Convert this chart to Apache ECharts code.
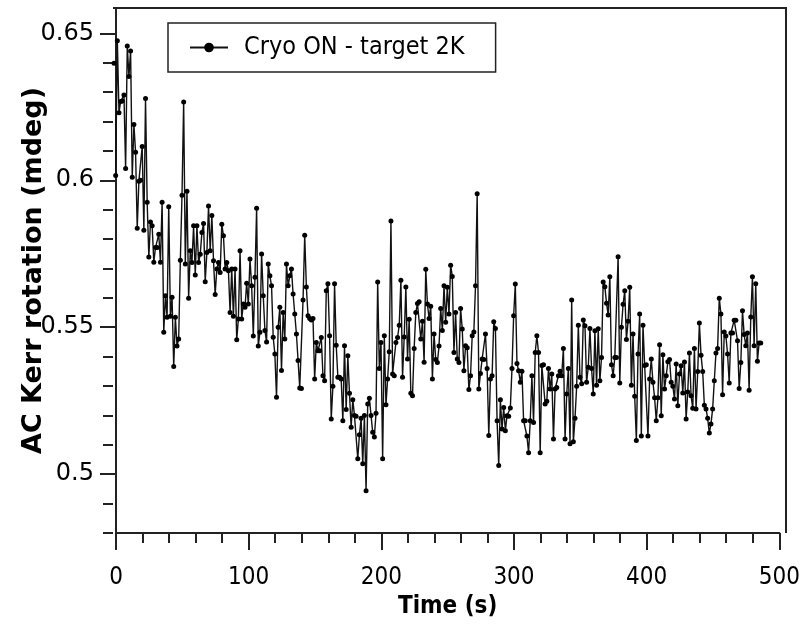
<!DOCTYPE html>
<html>
<head>
<meta charset="utf-8">
<title>AC Kerr rotation</title>
<script src="https://cdn.jsdelivr.net/npm/echarts@6/dist/echarts.min.js"></script>
<style>
  html, body { margin: 0; padding: 0; background: #fff; }
  #chart { width: 808px; height: 633px; }
</style>
</head>
<body>
<div id="chart"></div>
<script>
// sampling of the trace (s)
var t0 = -1.5;
var dt = 1.25;

// values, in time order (mdeg)
var kerrA = [
  0.6398, 0.6016, 0.6475, 0.6230, 0.6268, 0.6270, 0.6290, 0.6040, 0.6457, 0.6353,
  0.6440, 0.6010, 0.6190, 0.6095, 0.5837, 0.5997, 0.6000, 0.6115, 0.5830, 0.6278,
  0.5925, 0.5739, 0.5858, 0.5845, 0.5721, 0.5771, 0.5771, 0.5816, 0.5721, 0.5925,
  0.5483, 0.5607, 0.5534, 0.5910, 0.5537, 0.5602, 0.5366, 0.5534, 0.5436, 0.5460,
  0.5728, 0.5949, 0.6266, 0.5715, 0.5963, 0.5599, 0.5760, 0.5720, 0.5845, 0.5678,
  0.5845, 0.5720, 0.5748, 0.5822, 0.5853, 0.5655, 0.5754, 0.5912, 0.5760, 0.5880,
  0.5726, 0.5611, 0.5698, 0.5720, 0.5686, 0.5850, 0.5811, 0.5698, 0.5720, 0.5692,
  0.5550, 0.5698, 0.5537, 0.5698, 0.5457, 0.5528, 0.5760, 0.5528, 0.5579, 0.5568,
  0.5650, 0.5579, 0.5732, 0.5641, 0.5470, 0.5670, 0.5905, 0.5436, 0.5483, 0.5749,
  0.5607, 0.5489, 0.5450, 0.5715, 0.5675, 0.5641, 0.5466, 0.5409, 0.5262, 0.5500,
  0.5568, 0.5353, 0.5550, 0.5460, 0.5715, 0.5641, 0.5675, 0.5698, 0.5613, 0.5545,
  0.5477, 0.5387, 0.5293
];
var kerrB = [
  0.5292, 0.5593, 0.5813, 0.5637, 0.5539, 0.5530, 0.5525, 0.5530, 0.5324, 0.5448,
  0.5420, 0.5420, 0.5465, 0.5335, 0.5318, 0.5624, 0.5648, 0.5471, 0.5188, 0.5299,
  0.5648, 0.5439, 0.5330, 0.5330, 0.5324, 0.5182, 0.5437, 0.5220, 0.5403, 0.5275,
  0.5160, 0.5253, 0.5200, 0.5197, 0.5053, 0.5134, 0.5190, 0.5036, 0.5200, 0.4944,
  0.5239, 0.5258, 0.5200, 0.5143, 0.5127, 0.5207, 0.5654, 0.5360, 0.5448, 0.5053,
  0.5471, 0.5236, 0.5324, 0.5417, 0.5861, 0.5341, 0.5335, 0.5448, 0.5465, 0.5507,
  0.5660, 0.5330, 0.5467, 0.5637, 0.5392, 0.5527, 0.5275, 0.5267, 0.5428, 0.5550,
  0.5581, 0.5587, 0.5460, 0.5520, 0.5381, 0.5697, 0.5579, 0.5530, 0.5571, 0.5324,
  0.5477, 0.5390, 0.5380, 0.5436, 0.5564, 0.5489, 0.5641, 0.5517, 0.5636, 0.5545,
  0.5711, 0.5673, 0.5414, 0.5550, 0.5392, 0.5380, 0.5564, 0.5494, 0.5352, 0.5437,
  0.5430, 0.5288, 0.5335, 0.5471, 0.5484, 0.5641, 0.5954, 0.5290, 0.5343, 0.5392,
  0.5390, 0.5477, 0.5360, 0.5132
];
var kerrC = [
  0.5324, 0.5335, 0.5519, 0.5496, 0.5182, 0.5030, 0.5253, 0.5154, 0.5227, 0.5148,
  0.5199, 0.5197, 0.5225, 0.5360, 0.5539, 0.5647, 0.5377, 0.5352, 0.5313, 0.5350,
  0.5182, 0.5182, 0.5130, 0.5073, 0.5182, 0.5335, 0.5176, 0.5414, 0.5471, 0.5414,
  0.5073, 0.5370, 0.5372, 0.5239, 0.5248, 0.5360, 0.5290, 0.5341, 0.5120, 0.5290,
  0.5295, 0.5335, 0.5350, 0.5335, 0.5428, 0.5120, 0.5273, 0.5360, 0.5104, 0.5593,
  0.5110, 0.5190, 0.5299, 0.5507, 0.5330, 0.5308, 0.5525, 0.5505, 0.5313, 0.5364,
  0.5496, 0.5360, 0.5273, 0.5488, 0.5303, 0.5495, 0.5318, 0.5397, 0.5654, 0.5638,
  0.5582, 0.5542, 0.5672, 0.5372, 0.5335, 0.5397, 0.5397, 0.5740, 0.5310, 0.5500,
  0.5578, 0.5624, 0.5458, 0.5520, 0.5636, 0.5303, 0.5477, 0.5265, 0.5115, 0.5409,
  0.5545, 0.5130, 0.5507, 0.5370, 0.5372, 0.5130, 0.5324, 0.5392, 0.5313, 0.5260,
  0.5182, 0.5260, 0.5440, 0.5199, 0.5406, 0.5290, 0.5335, 0.5383, 0.5390, 0.5313,
  0.5299, 0.5256, 0.5375, 0.5233, 0.5341
];
var kerrD = [
  0.5369, 0.5276, 0.5382, 0.5188, 0.5280, 0.5412, 0.5267, 0.5224, 0.5428, 0.5222,
  0.5349, 0.5514, 0.5405, 0.5349, 0.5235, 0.5222, 0.5190, 0.5140, 0.5171, 0.5222,
  0.5318, 0.5412, 0.5428, 0.5599, 0.5545, 0.5270, 0.5484, 0.5470, 0.5409, 0.5310,
  0.5480, 0.5480, 0.5524, 0.5524, 0.5454, 0.5292, 0.5380, 0.5556, 0.5475, 0.5437,
  0.5480, 0.5286, 0.5535, 0.5672, 0.5437, 0.5648, 0.5384, 0.5446, 0.5446
];

var yMajorTicks = [0.5, 0.55, 0.6, 0.65];
var yMinorTicks = [0.48, 0.49, 0.51, 0.52, 0.53, 0.54, 0.56, 0.57, 0.58, 0.59,
                   0.61, 0.62, 0.63, 0.64];
var seriesName = 'Cryo ON - target 2K';

var kerr = kerrA.concat(kerrB, kerrC, kerrD);
var points = kerr.map(function (v, i) {
  return [+(t0 + i * dt).toFixed(2), v];
});

var ink = '#222';
var labelFont = "'DejaVu Sans Condensed', 'DejaVu Sans', sans-serif";

var chart = echarts.init(document.getElementById('chart'));
var option = {
  animation: false,
  backgroundColor: '#fff',
  grid: { left: 116, right: 28.7, top: 8, bottom: 100, outerBoundsMode: 'none' },
  legend: {
    left: 168,
    top: 23,
    data: [seriesName],
    itemWidth: 38,
    itemHeight: 12,
    padding: [12, 31, 12, 21],
    borderColor: ink,
    borderWidth: 1.5,
    textStyle: {
      color: '#000',
      fontSize: 25,
      fontFamily: labelFont,
      padding: [0, 0, 0, 11]
    }
  },
  xAxis: {
    type: 'value',
    min: 0,
    max: 500,
    interval: 100,
    name: 'Time (s)',
    nameLocation: 'middle',
    nameGap: 62,
    nameMoveOverlap: false,
    nameTextStyle: { color: '#000', fontSize: 24, fontWeight: 'bold', fontFamily: labelFont },
    axisLine: { lineStyle: { color: ink, width: 2 } },
    axisTick: { length: 17, lineStyle: { color: ink, width: 2 } },
    minorTick: { show: true, splitNumber: 5, length: 10, lineStyle: { color: ink, width: 2 } },
    axisLabel: { color: '#000', fontSize: 24, margin: 33, fontFamily: labelFont },
    splitLine: { show: false }
  },
  yAxis: [
    {
      type: 'value',
      min: 0.48,
      max: 0.6586,
      offset: 3,
      name: 'AC Kerr rotation (mdeg)',
      nameLocation: 'middle',
      nameGap: 66,
      nameMoveOverlap: false,
      nameTextStyle: { color: '#000', fontSize: 27, fontWeight: 'bold', fontFamily: "'DejaVu Sans', sans-serif" },
      axisLine: { show: true, lineStyle: { color: ink, width: 2 } },
      axisTick: { show: true, length: 16, customValues: yMajorTicks, lineStyle: { color: ink, width: 2 } },
      axisLabel: {
        color: '#000', fontSize: 24, margin: 19,
        fontFamily: "'DejaVu Sans', sans-serif",
        customValues: yMajorTicks,
        formatter: function (v) { return String(+v.toFixed(2)); }
      },
      splitLine: { show: false }
    },
    {
      type: 'value',
      position: 'left',
      min: 0.48,
      max: 0.6586,
      offset: 3,
      axisLine: { show: false },
      axisTick: { show: true, length: 10, customValues: yMinorTicks, lineStyle: { color: ink, width: 2 } },
      axisLabel: { show: false },
      splitLine: { show: false }
    }
  ],
  graphic: [
    {
      type: 'polyline',
      shape: { points: [[113, 8], [786, 8], [786, 533]] },
      style: { stroke: ink, lineWidth: 2, fill: null },
      silent: true
    }
  ],
  series: [
    {
      name: seriesName,
      type: 'line',
      data: points,
      clip: false,
      symbol: 'circle',
      symbolSize: 5,
      showAllSymbol: true,
      itemStyle: { color: '#000' },
      lineStyle: { color: '#111', width: 1.4 }
    }
  ]
};
chart.setOption(option);
</script>
</body>
</html>
